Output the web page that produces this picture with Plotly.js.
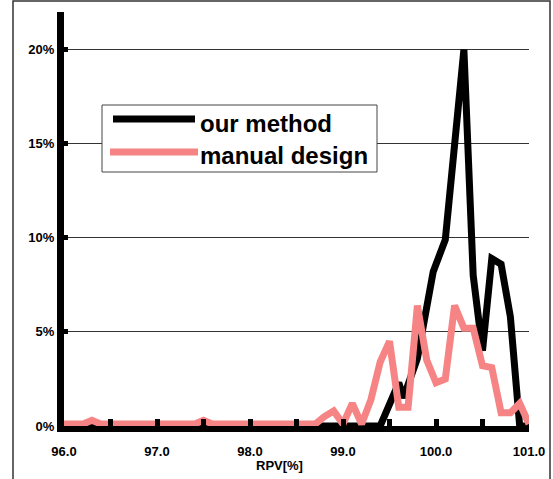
<!DOCTYPE html>
<html>
<head>
<meta charset="utf-8">
<script src="https://cdn.plot.ly/plotly-3.0.1.min.js"></script>
<style>html,body{margin:0;padding:0;background:#fff;}#chart{width:553px;height:479px;}</style>
</head>
<body>
<div id="chart"></div>
<script>
// "our method" series
var oursX = [96.0, 96.5, 97.0, 97.5, 98.0, 98.5, 99.0, 99.4, 99.6, 99.65, 99.8, 99.97, 100.1, 100.3, 100.4, 100.5, 100.6, 100.7, 100.8, 100.9, 101.0];
var oursY = [0, 0, 0, 0, 0, 0, 0, 0, 0.023, 0.015, 0.036, 0.082, 0.099, 0.200, 0.080, 0.040, 0.089, 0.086, 0.058, 0, 0];
// "manual design" series
var manualX = [96.0, 96.2, 96.3, 96.4, 97.4, 97.5, 97.6, 98.7, 98.8, 98.9, 99.0, 99.1, 99.2, 99.3, 99.4, 99.5, 99.6, 99.7, 99.8, 99.9, 100.0, 100.1, 100.2, 100.3, 100.4, 100.5, 100.6, 100.7, 100.8, 100.9, 101.0];
var manualY = [0.001, 0.001, 0.003, 0.001, 0.001, 0.003, 0.001, 0.001, 0.005, 0.008, 0.001, 0.012, 0.001, 0.014, 0.034, 0.045, 0.010, 0.010, 0.064, 0.035, 0.023, 0.025, 0.064, 0.052, 0.052, 0.032, 0.031, 0.007, 0.007, 0.012, 0.001];
var seriesNames = ["our method", "manual design"];
var yTicks = [0, 0.05, 0.10, 0.15, 0.20];
var xTicks = [96, 97, 98, 99, 100, 101];
var xTickText = ["96.0", "97.0", "98.0", "99.0", "100.0", "101.0"];
var xDotTicks = [96.5, 97, 97.5, 98, 98.5, 99, 99.5, 100, 100.5];

var fnt = {family: "Liberation Sans, Arial, sans-serif", size: 13, color: "#000", weight: "bold"};
var legFnt = {family: "Liberation Sans, Arial, sans-serif", size: 24, color: "#000", weight: "bold"};
var redCol = "rgb(246,132,132)";

var traces = [
  {x: [96, 101], y: [null, null], xaxis: "x2", yaxis: "y", mode: "lines", showlegend: false, hoverinfo: "skip"},
  {x: oursX, y: oursY, mode: "lines", name: seriesNames[0],
   line: {color: "#000", width: 7, shape: "linear"}, showlegend: false},
  {x: manualX, y: manualY, mode: "lines", name: seriesNames[1],
   line: {color: redCol, width: 7}, showlegend: false}
];

// manual legend (box + samples + labels) in paper coords
var L = 64, R = 529, T = 12, B = 426, W = R - L, H = B - T;
function px(x) { return (x - L) / W; }
function py(y) { return (B - y) / H; }

var layout = {
  width: 553, height: 479,
  margin: {l: L, r: 553 - R, t: T, b: 479 - B},
  paper_bgcolor: "#fff", plot_bgcolor: "#fff",
  showlegend: false,
  xaxis: {
    range: [96, 101], tickvals: xTicks, ticktext: xTickText,
    ticks: "outside", ticklen: 8, tickwidth: 1, tickcolor: "rgba(0,0,0,0)",
    showline: true, linecolor: "#000", linewidth: 6,
    showgrid: false, zeroline: false, tickfont: fnt, fixedrange: true
  },
  xaxis2: {
    range: [96, 101], overlaying: "x", anchor: "y", side: "bottom",
    tickvals: xDotTicks, showticklabels: false,
    ticks: "inside", ticklen: 7, tickwidth: 5, tickcolor: "#000",
    showline: false, showgrid: false, zeroline: false, fixedrange: true
  },
  yaxis: {
    range: [0, 0.22], tickvals: yTicks, tickformat: ".0%",
    ticks: "inside", ticklen: 4, tickwidth: 5, tickcolor: "#000",
    showline: true, linecolor: "#000", linewidth: 7,
    showgrid: true, gridcolor: "#333", gridwidth: 1,
    zeroline: false, tickfont: fnt, fixedrange: true
  },
  annotations: [
    {xref: "paper", yref: "paper", x: px(279), y: py(465), text: "RPV[%]", showarrow: false,
     font: fnt, xanchor: "center", yanchor: "middle"},
    {xref: "paper", yref: "paper", x: px(198), y: py(124), text: seriesNames[0], showarrow: false,
     font: legFnt, xanchor: "left", yanchor: "middle"},
    {xref: "paper", yref: "paper", x: px(198), y: py(155), text: seriesNames[1], showarrow: false,
     font: legFnt, xanchor: "left", yanchor: "middle"}
  ],
  shapes: [
    {type: "rect", xref: "paper", yref: "paper", x0: px(102), x1: px(377), y0: py(172), y1: py(105),
     line: {color: "#444", width: 1}, fillcolor: "#fff", layer: "above"},
    {type: "line", xref: "paper", yref: "paper", x0: px(113), x1: px(195), y0: py(119), y1: py(119),
     line: {color: "#000", width: 7}, layer: "above"},
    {type: "line", xref: "paper", yref: "paper", x0: px(110), x1: px(198), y0: py(152), y1: py(152),
     line: {color: redCol, width: 7}, layer: "above"},
    {type: "rect", xref: "paper", yref: "paper", x0: px(13), x1: px(550), y0: py(500), y1: py(1),
     line: {color: "#333", width: 1.5}, fillcolor: "rgba(0,0,0,0)", layer: "below"}
  ]
};

Plotly.newPlot("chart", traces, layout, {displayModeBar: false, staticPlot: true});
</script>
</body>
</html>
